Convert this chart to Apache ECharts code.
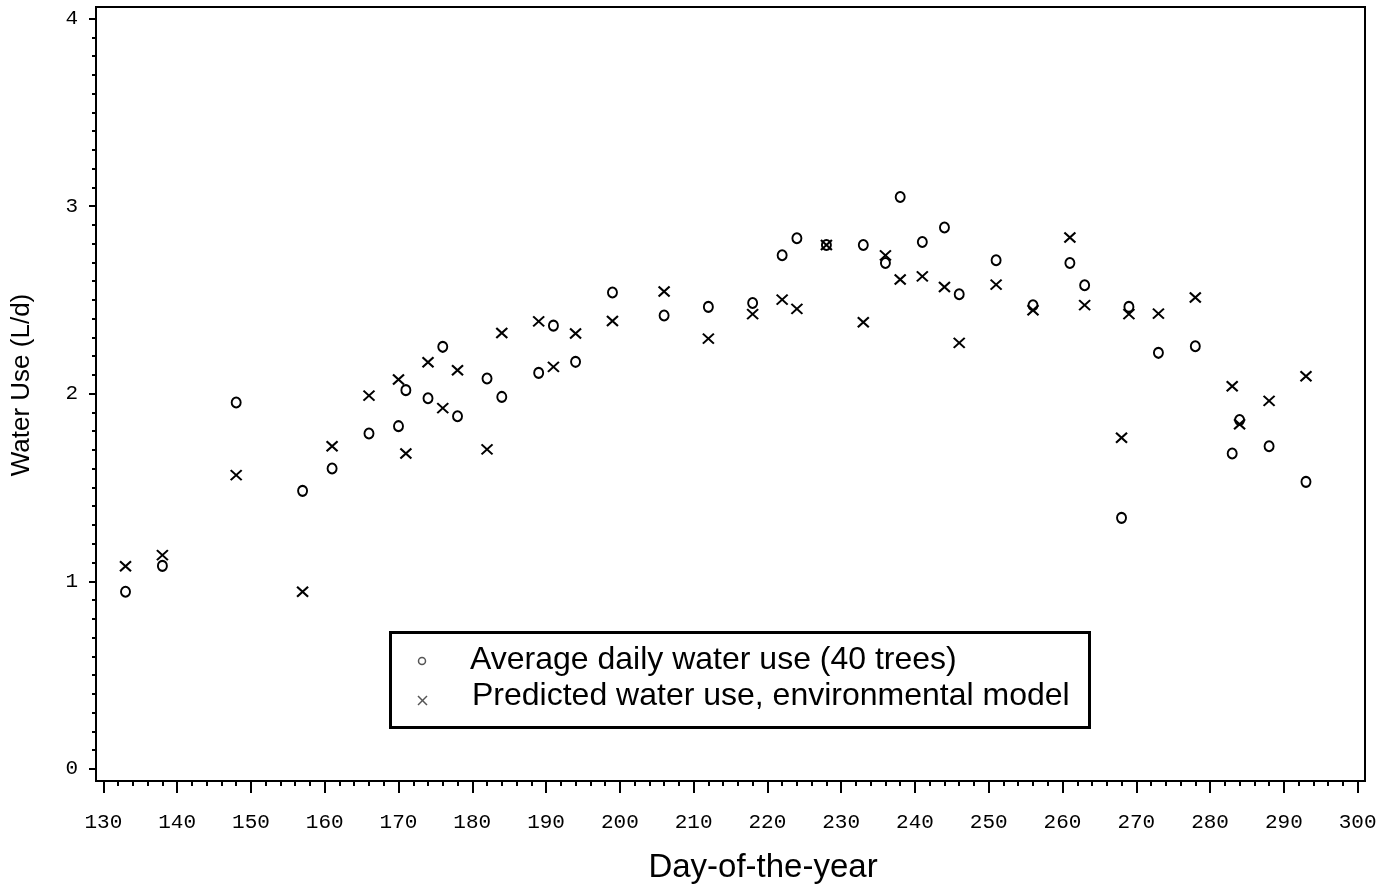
<!DOCTYPE html>
<html>
<head>
<meta charset="utf-8">
<script src="https://cdn.jsdelivr.net/npm/echarts@6/dist/echarts.min.js"></script>
<style>
html,body{margin:0;padding:0;background:#fff;}
#chart{width:1397px;height:890px;}
</style>
</head>
<body>
<div id="chart"></div>
<script>
const days = [133,138,148,157,161,166,170,171,174,176,178,182,184,189,191,194,199,206,212,218,222,224,228,233,236,238,241,244,246,251,256,261,263,268,269,273,278,283,284,288,293];
const observed = [0.944,1.082,1.953,1.482,1.601,1.788,1.827,2.019,1.976,2.25,1.88,2.081,1.983,2.111,2.363,2.17,2.54,2.417,2.463,2.484,2.738,2.829,2.793,2.793,2.697,3.049,2.809,2.886,2.53,2.712,2.472,2.697,2.578,1.338,2.463,2.218,2.253,1.681,1.86,1.72,1.53];
const predicted = [1.08,1.139,1.566,0.944,1.72,1.99,2.076,1.681,2.168,1.923,2.125,1.703,2.324,2.386,2.143,2.321,2.388,2.545,2.294,2.424,2.502,2.452,2.793,2.381,2.738,2.609,2.626,2.569,2.271,2.582,2.445,2.833,2.472,1.765,2.424,2.427,2.513,2.04,1.837,1.962,2.093];
const xTicks = [130,140,150,160,170,180,190,200,210,220,230,240,250,260,270,280,290,300];
const yTicks = [0,1,2,3,4];
const seriesNames = ['Average daily water use (40 trees)','Predicted water use, environmental model'];
const xTitle = 'Day-of-the-year';
const yTitle = 'Water Use (L/d)';

const xMinor = [];
for (let v = 130; v <= 300; v += 2) if (v % 10 !== 0) xMinor.push(v);
const yMinor = [];
for (let i = 1; i < 40; i++) if (i % 10 !== 0) yMinor.push(+(i / 10).toFixed(1));

const X_MIN = 129, X_MAX = 301, Y_MIN = -0.065, Y_MAX = 4.062;
const tickFont = {fontFamily: '"Liberation Mono", "DejaVu Sans Mono", monospace', fontSize: 21, color: '#000'};

const chart = echarts.init(document.getElementById('chart'), null, {renderer: 'canvas'});
chart.setOption({
  animation: false,
  backgroundColor: '#fff',
  grid: {left: 96, right: 32, top: 7, bottom: 109, show: true, borderColor: '#000', borderWidth: 2},
  xAxis: [
    {type: 'value', min: X_MIN, max: X_MAX, splitLine: {show: false},
     axisLine: {show: true, onZero: false, lineStyle: {color: '#000', width: 2}},
     axisTick: {show: true, length: 12, lineStyle: {color: '#000', width: 2}, customValues: xTicks},
     axisLabel: Object.assign({margin: 31, customValues: xTicks}, tickFont)},
    {type: 'value', min: X_MIN, max: X_MAX, position: 'bottom', splitLine: {show: false},
     axisLine: {show: false, onZero: false},
     axisTick: {show: true, length: 5, lineStyle: {color: '#000', width: 2}, customValues: xMinor},
     axisLabel: {show: false}}
  ],
  yAxis: [
    {type: 'value', min: Y_MIN, max: Y_MAX, splitLine: {show: false},
     axisLine: {show: true, onZero: false, lineStyle: {color: '#000', width: 2}},
     axisTick: {show: true, length: 7, lineStyle: {color: '#000', width: 2}, customValues: yTicks},
     axisLabel: Object.assign({margin: 18, customValues: yTicks}, tickFont)},
    {type: 'value', min: Y_MIN, max: Y_MAX, position: 'left', splitLine: {show: false},
     axisLine: {show: false, onZero: false},
     axisTick: {show: true, length: 4, lineStyle: {color: '#000', width: 2}, customValues: yMinor},
     axisLabel: {show: false}}
  ],
  series: [
    {name: seriesNames[0], type: 'scatter', xAxisIndex: 0, yAxisIndex: 0,
     symbol: 'circle', symbolSize: [9, 10],
     itemStyle: {color: 'rgba(0,0,0,0)', borderColor: '#000', borderWidth: 2, opacity: 1},
     data: days.map((d, i) => [d, observed[i]])},
    {name: seriesNames[1], type: 'scatter', xAxisIndex: 0, yAxisIndex: 0,
     symbol: 'path://M0 0L10 10M10 0L0 10', symbolSize: [11, 10],
     itemStyle: {color: '#000', borderColor: '#000', borderWidth: 2, opacity: 1},
     data: days.map((d, i) => [d, predicted[i]])}
  ],
  graphic: [
    {type: 'text', x: 22, y: 385, rotation: Math.PI / 2,
     style: {text: yTitle, font: '26px "Liberation Sans", Arial, sans-serif', fill: '#000', align: 'center', verticalAlign: 'middle'}},
    {type: 'text', x: 763, y: 868,
     style: {text: xTitle, font: '33px "Liberation Sans", Arial, sans-serif', fill: '#000', align: 'center', verticalAlign: 'middle'}},
    {type: 'rect', shape: {x: 390.5, y: 632.5, width: 699, height: 95},
     style: {fill: '#fff', stroke: '#000', lineWidth: 3}, z: 10},
    {type: 'circle', shape: {cx: 422, cy: 661, r: 3.5},
     style: {fill: 'none', stroke: '#555', lineWidth: 1.5}, z: 11},
    {type: 'line', shape: {x1: 418, y1: 696, x2: 427, y2: 705}, style: {stroke: '#555', lineWidth: 1.5}, z: 11},
    {type: 'line', shape: {x1: 427, y1: 696, x2: 418, y2: 705}, style: {stroke: '#555', lineWidth: 1.5}, z: 11},
    {type: 'text', x: 470, y: 660, z: 11,
     style: {text: seriesNames[0], font: '32px "Liberation Sans", Arial, sans-serif', fill: '#000', verticalAlign: 'middle'}},
    {type: 'text', x: 472, y: 696, z: 11,
     style: {text: seriesNames[1], font: '32px "Liberation Sans", Arial, sans-serif', fill: '#000', verticalAlign: 'middle'}}
  ]
});
</script>
</body>
</html>
